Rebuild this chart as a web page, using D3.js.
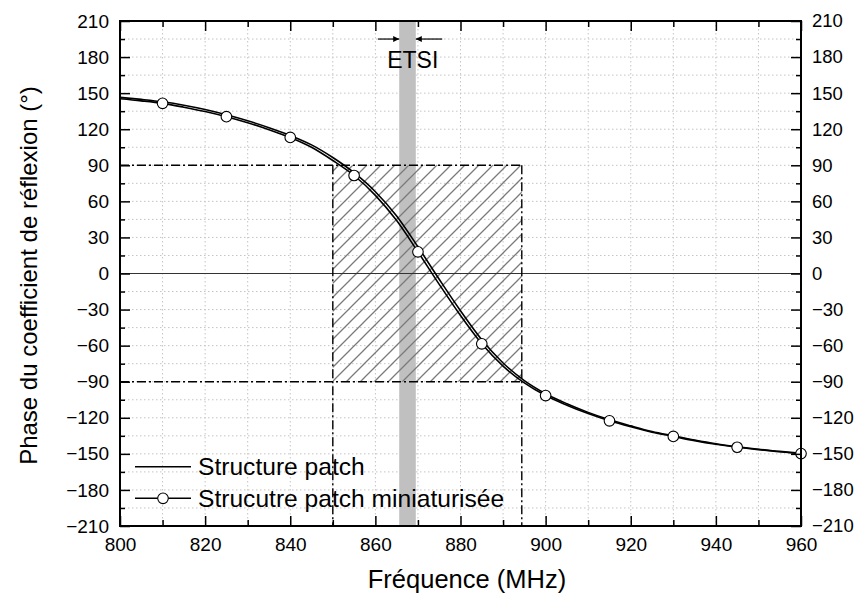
<!DOCTYPE html>
<html><head><meta charset="utf-8">
<script src="https://cdn.jsdelivr.net/npm/d3@7"></script>
<style>
body{margin:0;background:#fff;}
svg{font-family:"Liberation Sans",Arial,sans-serif;}
</style></head>
<body><svg id="c" width="854" height="596"></svg>
<script>
// ---- data ----
const freqs = [800,805,810,815,820,825,830,835,840,845,850,855,860,865,870,875,880,885,890,895,900,905,910,915,920,925,930,935,940,945,950,955,960];
const structurePatch = [146.5,144.8,142.8,140.0,136.4,132.0,127.0,121.3,114.8,107.0,96.5,83.8,68.0,47.8,22.2,-4.8,-31.0,-55.1,-74.4,-89.1,-100.0,-108.3,-115.5,-121.6,-126.7,-131.4,-135.0,-138.5,-141.6,-144.1,-146.2,-147.9,-149.6];
const miniaturisee = [145.3,143.6,141.5,138.3,134.7,130.4,125.4,119.6,113.2,105.0,94.0,81.5,65.0,44.0,18.0,-9.0,-35.0,-58.5,-77.0,-91.0,-101.5,-109.5,-116.5,-122.5,-127.5,-132.0,-135.5,-139.0,-142.0,-144.5,-146.5,-148.2,-149.8];
const markerFreqs = [810,825,840,855,870,885,900,915,930,945,960];
const xTicks = [800,820,840,860,880,900,920,940,960];
const xMinor = [810,830,850,870,890,910,930,950];
const yTicks = [-210,-180,-150,-120,-90,-60,-30,0,30,60,90,120,150,180,210];
const yMinor = [-195,-165,-135,-105,-75,-45,-15,15,45,75,105,135,165,195];
const etsiBand = [865.6, 869.5];
const hatchBox = {f0:850, f1:894.4, p0:-90, p1:90};
const legendLabels = ["Structure patch","Strucutre patch miniaturisée"];

const svg = d3.select("#c");
const L=120,R=801,T=21,B=526;
const x = d3.scaleLinear().domain([800,960]).range([L,R]);
const y = d3.scaleLinear().domain([-210,210]).range([B,T]);

const defs = svg.append("defs");
const pat = defs.append("pattern").attr("id","hatch").attr("patternUnits","userSpaceOnUse")
  .attr("width",14).attr("height",14);
pat.append("path").attr("d","M-3,3 L3,-3 M0,14 L14,0 M11,17 L17,11")
  .attr("stroke","#7a7a7a").attr("stroke-width",1.3);
defs.append("marker").attr("id","arr").attr("viewBox","0 0 10 10").attr("refX",10).attr("refY",5)
  .attr("markerWidth",8).attr("markerHeight",6).attr("markerUnits","userSpaceOnUse").attr("orient","auto")
  .append("path").attr("d","M0,0 L10,5 L0,10 z").attr("fill","#000");

// grid
const grid = svg.append("g").attr("stroke","#c4c4c4").attr("stroke-width",1).attr("stroke-dasharray","1.5,2.5");
xTicks.concat(xMinor).filter(v=>v>800&&v<960).forEach(v=>{
  grid.append("line").attr("x1",x(v)).attr("x2",x(v)).attr("y1",T).attr("y2",B);
});
yTicks.concat(yMinor).filter(v=>v>-210&&v<210&&v!==0).forEach(v=>{
  grid.append("line").attr("x1",L).attr("x2",R).attr("y1",y(v)).attr("y2",y(v));
});

// ETSI band
svg.append("rect").attr("x",x(etsiBand[0])).attr("y",T).attr("width",x(etsiBand[1])-x(etsiBand[0])).attr("height",B-T)
  .attr("fill","#c0c0c0");

// hatch box
svg.append("rect").attr("x",x(hatchBox.f0)).attr("y",y(hatchBox.p1))
  .attr("width",x(hatchBox.f1)-x(hatchBox.f0)).attr("height",y(hatchBox.p0)-y(hatchBox.p1))
  .attr("fill","url(#hatch)");

// zero line
svg.append("line").attr("x1",L).attr("x2",R).attr("y1",y(0)).attr("y2",y(0)).attr("stroke","#333").attr("stroke-width",1.2);

// dash-dot lines
const dd = svg.append("g").attr("stroke","#000").attr("stroke-width",1.4).attr("stroke-dasharray","9,3,2,3").attr("fill","none");
dd.append("line").attr("x1",L).attr("x2",x(hatchBox.f1)).attr("y1",y(hatchBox.p1)).attr("y2",y(hatchBox.p1));
dd.append("line").attr("x1",L).attr("x2",x(hatchBox.f1)).attr("y1",y(hatchBox.p0)).attr("y2",y(hatchBox.p0));
dd.append("line").attr("x1",x(hatchBox.f0)).attr("x2",x(hatchBox.f0)).attr("y1",y(hatchBox.p1)).attr("y2",B);
dd.append("line").attr("x1",x(hatchBox.f1)).attr("x2",x(hatchBox.f1)).attr("y1",y(hatchBox.p1)).attr("y2",B);

// curves
const line = d3.line().x((d,i)=>x(freqs[i])).y(d=>y(d)).curve(d3.curveMonotoneX);
svg.append("path").attr("d",line(structurePatch)).attr("fill","none").attr("stroke","#000").attr("stroke-width",1.6);
svg.append("path").attr("d",line(miniaturisee)).attr("fill","none").attr("stroke","#000").attr("stroke-width",1.6);
svg.append("g").selectAll("circle").data(markerFreqs).join("circle")
  .attr("cx",d=>x(d)).attr("cy",d=>y(miniaturisee[freqs.indexOf(d)])).attr("r",5.3)
  .attr("fill","#fff").attr("stroke","#000").attr("stroke-width",1.1);

// ETSI arrows & label
svg.append("line").attr("x1",x(860.6)).attr("x2",x(etsiBand[0])).attr("y1",y(195)).attr("y2",y(195))
  .attr("stroke","#000").attr("stroke-width",1.2).attr("marker-end","url(#arr)");
svg.append("line").attr("x1",x(875.7)).attr("x2",x(etsiBand[1])).attr("y1",y(195)).attr("y2",y(195))
  .attr("stroke","#000").attr("stroke-width",1.2).attr("marker-end","url(#arr)");
svg.append("text").attr("x",x(867.6)+5).attr("y",68).attr("text-anchor","middle").attr("font-size",23).text("ETSI");

// axes
function styleAxis(g){ g.select(".domain").remove(); g.selectAll("line").attr("stroke","#000").attr("stroke-width",1.5);
  g.selectAll("text").attr("font-size",19).attr("fill","#000").attr("font-family","'Liberation Sans',Arial,sans-serif"); }
const fmt = d3.format("d");
svg.append("g").attr("transform",`translate(0,${B})`).call(d3.axisBottom(x).tickValues(xTicks).tickSize(-10).tickPadding(12).tickFormat(fmt)).call(styleAxis);
svg.append("g").attr("transform",`translate(0,${B})`).call(d3.axisBottom(x).tickValues(xMinor).tickSize(-6).tickFormat("")).call(styleAxis);
svg.append("g").attr("transform",`translate(0,${T})`).call(d3.axisTop(x).tickValues(xTicks).tickSize(-10).tickFormat("")).call(styleAxis);
svg.append("g").attr("transform",`translate(0,${T})`).call(d3.axisTop(x).tickValues(xMinor).tickSize(-6).tickFormat("")).call(styleAxis);
svg.append("g").attr("transform",`translate(${L},0)`).call(d3.axisLeft(y).tickValues(yTicks).tickSize(-10).tickPadding(11).tickFormat(fmt)).call(styleAxis);
svg.append("g").attr("transform",`translate(${L},0)`).call(d3.axisLeft(y).tickValues(yMinor).tickSize(-5).tickFormat("")).call(styleAxis);
svg.append("g").attr("transform",`translate(${R},0)`).call(d3.axisRight(y).tickValues(yTicks).tickSize(-10).tickPadding(11).tickFormat(fmt))
  .call(styleAxis).call(g=>g.selectAll("text").attr("font-size",18.5));
svg.append("g").attr("transform",`translate(${R},0)`).call(d3.axisRight(y).tickValues(yMinor).tickSize(-5).tickFormat("")).call(styleAxis);

// frame
svg.append("rect").attr("x",L).attr("y",T).attr("width",R-L).attr("height",B-T).attr("fill","none").attr("stroke","#000").attr("stroke-width",2);

// legend
const lg = svg.append("g");
[466.7,498.3].forEach((ly,i)=>{
  lg.append("line").attr("x1",135).attr("x2",191).attr("y1",ly).attr("y2",ly).attr("stroke","#000").attr("stroke-width",1.5);
  if(i===1) lg.append("circle").attr("cx",163).attr("cy",ly).attr("r",5.3).attr("fill","#fff").attr("stroke","#000").attr("stroke-width",1.1);
  lg.append("text").attr("x",198).attr("y",ly).attr("dy","0.35em").attr("font-size",24.6).text(legendLabels[i]);
});

// titles
svg.append("text").attr("x",467).attr("y",588).attr("text-anchor","middle").attr("font-size",25.5).text("Fréquence (MHz)");
svg.append("text").attr("transform",`translate(37,${(T+B)/2+2}) rotate(-90)`).attr("text-anchor","middle").attr("font-size",24)
  .text("Phase du coefficient de réflexion (°)");
</script></body></html>
